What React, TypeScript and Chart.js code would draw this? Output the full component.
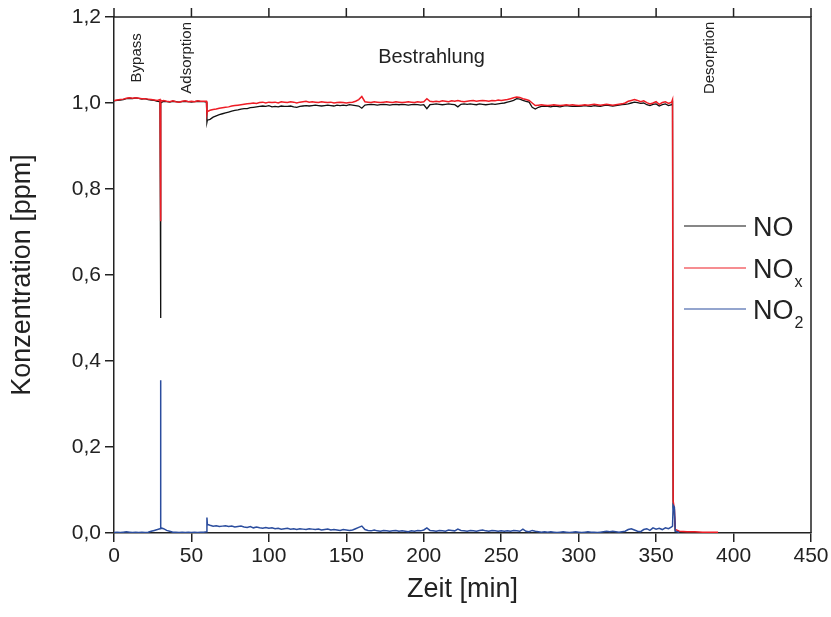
import React, { useEffect, useRef } from "react";
import { Chart, registerables } from "chart.js";

Chart.register(...registerables);

const FONT = "'Liberation Sans', Arial, Helvetica, sans-serif";

// time axis (minutes)
const zeitMin = [
  0, 2, 4, 6, 8, 10, 12, 14, 16, 18, 20, 22, 24, 26, 28,
  29.7, 30, 30.3,
  32, 34, 36, 38, 40, 42, 44, 46, 48, 50, 52, 54, 56, 58,
  59.7, 60, 60.3,
  62, 64, 66, 68, 70, 72, 74, 76, 78, 80, 82, 84, 86, 88, 90, 92, 94, 96, 98, 100,
  102, 104, 106, 108, 110, 112, 114, 116, 118, 120, 122, 124, 126, 128, 130, 132, 134, 136, 138, 140, 142, 144, 146, 148, 150,
  152, 154, 156, 158, 160, 162, 164, 166, 168, 170, 172, 174, 176, 178, 180, 182, 184, 186, 188, 190, 192, 194, 196, 198, 200,
  202, 204, 206, 208, 210, 212, 214, 216, 218, 220, 222, 224, 226, 228, 230, 232, 234, 236, 238, 240, 242, 244, 246, 248, 250,
  252, 254, 256, 258, 260, 262, 264, 266, 268, 270,
  272, 274, 276, 278, 280, 282, 284, 286, 288, 290, 292, 294, 296, 298, 300, 302, 304, 306, 308, 310, 312, 314, 316, 318, 320, 322, 324, 326, 328, 330,
  332, 334, 336, 338, 340, 342, 344, 346, 348, 350, 352, 354, 356, 358, 360,
  360.6, 361, 361.8, 362.4, 365, 370, 375, 380, 385, 390,
];

const noPpm = [
  1.005, 1.006, 1.007, 1.008, 1.010, 1.011, 1.010, 1.012, 1.011, 1.009, 1.010, 1.008, 1.007, 1.006, 1.004,
  1.003, 0.500, 1.000,
  1.004, 1.003, 1.002, 1.004, 1.003, 1.002, 1.003, 1.004, 1.003, 1.002, 1.003, 1.004, 1.003, 1.003,
  1.002, 0.955, 0.960,
  0.962, 0.967, 0.970, 0.973, 0.975, 0.977, 0.979, 0.981, 0.983, 0.984, 0.986, 0.987, 0.987, 0.989, 0.990, 0.991, 0.992, 0.993, 0.992, 0.994,
  0.991, 0.992, 0.991, 0.993, 0.992, 0.992, 0.993, 0.991, 0.990, 0.992, 0.993, 0.994, 0.993, 0.994, 0.995, 0.994, 0.993, 0.994, 0.995, 0.994, 0.993, 0.995, 0.994, 0.995, 0.994,
  0.996, 0.995, 0.994, 0.993, 0.988, 0.995, 0.996, 0.997, 0.996, 0.995, 0.996, 0.997, 0.996, 0.995, 0.996, 0.997, 0.996, 0.997, 0.996, 0.995, 0.996, 0.997, 0.996, 0.995, 0.996,
  0.987, 0.996, 0.997, 0.998, 0.997, 0.996, 0.997, 0.998, 0.997, 0.996, 0.991, 0.997, 0.998, 0.997, 0.998, 0.997, 0.996, 0.998, 0.997, 0.996, 0.997, 0.998, 0.997, 0.998, 0.999,
  1.000, 1.002, 1.004, 1.006, 1.010, 1.009, 1.006, 1.004, 1.002, 0.990,
  0.986, 0.990, 0.992, 0.993, 0.992, 0.991, 0.993, 0.992, 0.991, 0.993, 0.994, 0.993, 0.992, 0.993, 0.992, 0.993, 0.994, 0.993, 0.992, 0.994, 0.993, 0.992, 0.994, 0.995, 0.994, 0.993, 0.994, 0.995, 0.996, 0.997,
  0.998, 1.000, 1.002, 1.001, 0.999, 1.000, 0.996, 0.994, 0.997, 0.998, 0.993, 0.996, 0.998, 0.994, 0.996,
  1.000, 0.060, 0.040, 0.004, 0.002, null, null, null, null, null,
];

const noxPpm = [
  1.006, 1.007, 1.008, 1.009, 1.011, 1.012, 1.011, 1.012, 1.011, 1.010, 1.010, 1.009, 1.008, 1.007, 1.006,
  1.008, 0.725, 1.004,
  1.006, 1.004, 1.003, 1.005, 1.003, 1.002, 1.004, 1.005, 1.003, 1.004, 1.003, 1.005, 1.004, 1.004,
  1.004, 0.975, 0.980,
  0.983, 0.985, 0.986, 0.988, 0.989, 0.990, 0.991, 0.993, 0.994, 0.995, 0.996, 0.997, 0.998, 0.999, 1.000, 0.999, 1.001, 1.002, 1.000, 1.002,
  1.001, 1.002, 1.000, 1.003, 1.002, 1.001, 1.003, 1.002, 1.000, 1.002, 1.003, 1.004, 1.002, 1.003, 1.002, 1.001, 1.003, 1.002, 1.001, 1.002, 1.000, 1.001, 1.002, 1.001, 1.000,
  1.001, 1.002, 1.004, 1.008, 1.015, 1.003, 1.002, 1.001, 1.003, 1.002, 1.001, 1.002, 1.003, 1.002, 1.001, 1.003, 1.002, 1.001, 1.002, 1.003, 1.002, 1.001, 1.003, 1.002, 1.003,
  1.010, 1.004, 1.003, 1.004, 1.003, 1.005, 1.004, 1.003, 1.005, 1.004, 1.006, 1.004, 1.003, 1.004, 1.005, 1.006, 1.004, 1.005, 1.006, 1.005, 1.004, 1.006, 1.005, 1.007, 1.006,
  1.007, 1.008, 1.010, 1.012, 1.014, 1.013, 1.010, 1.008, 1.006, 1.000,
  0.994, 0.995, 0.996, 0.995, 0.994, 0.995, 0.996, 0.995, 0.994, 0.995, 0.996, 0.995, 0.996, 0.995, 0.994, 0.995, 0.996, 0.995, 0.996, 0.997, 0.996, 0.995, 0.996, 0.997, 0.996, 0.995, 0.996, 0.997, 0.998, 1.000,
  1.004, 1.006, 1.008, 1.006, 1.003, 1.005, 1.001, 0.998, 1.000, 1.003, 0.997, 1.001, 1.003, 0.999, 1.002,
  1.008, 0.075, 0.055, 0.008, 0.004, 0.003, 0.003, 0.002, 0.002, 0.002,
];

const no2Ppm = [
  0.001, 0.002, 0.001, 0.002, 0.003, 0.002, 0.001, 0.002, 0.001, 0.002, 0.001, 0.002, 0.004, 0.006, 0.008,
  0.010, 0.355, 0.012,
  0.010, 0.006, 0.004, 0.002, 0.002, 0.001, 0.002, 0.001, 0.002, 0.001, 0.002, 0.001, 0.002, 0.002,
  0.003, 0.036, 0.020,
  0.018, 0.016, 0.017, 0.015, 0.016, 0.017, 0.015, 0.016, 0.014, 0.015, 0.016, 0.014, 0.013, 0.015, 0.012, 0.014, 0.012, 0.011, 0.013, 0.011,
  0.012, 0.010, 0.011, 0.009, 0.010, 0.011, 0.009, 0.010, 0.008, 0.010, 0.009, 0.008, 0.010, 0.009, 0.008, 0.009, 0.007, 0.008, 0.009, 0.007, 0.008, 0.007, 0.006, 0.008, 0.007,
  0.006, 0.007, 0.010, 0.013, 0.016, 0.008, 0.006, 0.005, 0.007, 0.005, 0.004, 0.006, 0.005, 0.004, 0.005, 0.006, 0.004, 0.005, 0.004, 0.003, 0.005, 0.004, 0.006, 0.005, 0.007,
  0.012, 0.006, 0.005, 0.004, 0.006, 0.005, 0.004, 0.007, 0.006, 0.005, 0.009, 0.006, 0.005, 0.004, 0.006, 0.005, 0.004, 0.006, 0.007, 0.005, 0.004, 0.006, 0.005, 0.004, 0.005,
  0.004, 0.005, 0.004, 0.006, 0.005, 0.004, 0.009, 0.004, 0.003, 0.006,
  0.004, 0.003, 0.002, 0.003, 0.002, 0.003, 0.002, 0.001, 0.002, 0.003, 0.002, 0.001, 0.002, 0.003, 0.002, 0.001, 0.002, 0.003, 0.002, 0.002, 0.001, 0.002, 0.003, 0.004, 0.003, 0.004, 0.003, 0.002, 0.003, 0.004,
  0.008, 0.010, 0.007, 0.004, 0.003, 0.008, 0.010, 0.006, 0.012, 0.009, 0.011, 0.008, 0.012, 0.010, 0.014,
  0.016, 0.065, 0.060, 0.004, 0.001, null, null, null, null, null,
];

const seriesNames = ["NO", "NOx", "NO2"];
const legendMain = ["NO", "NO", "NO"];
const legendSub = ["", "x", "2"];
const seriesColors = ["#111111", "#ee1c25", "#2b4d9e"];

const xTickValues = [0, 50, 100, 150, 200, 250, 300, 350, 400, 450];
const phaseTexts = ["Bypass", "Adsorption", "Bestrahlung", "Desorption"];
const phaseX = [15, 47, 205, 384.5];
const phaseVertical = [true, true, false, true];
const phaseY = 1.105;

const toPoints = (arr: (number | null)[]) => zeitMin.map((t, i) => ({ x: t, y: arr[i] }));

const decorPlugin = {
  id: "decor",
  afterDraw(chart: any) {
    const { ctx, chartArea: a, scales } = chart;
    ctx.save();
    ctx.strokeStyle = "#222";
    ctx.lineWidth = 1.5;
    ctx.beginPath();
    ctx.moveTo(a.left, a.top);
    ctx.lineTo(a.right, a.top);
    ctx.lineTo(a.right, a.bottom);
    ctx.stroke();
    ctx.beginPath();
    for (const v of xTickValues) {
      const px = scales.x.getPixelForValue(v);
      ctx.moveTo(px, a.top);
      ctx.lineTo(px, a.top - 9);
    }
    ctx.stroke();

    ctx.fillStyle = "#222";
    for (let i = 0; i < phaseTexts.length; i++) {
      const px = scales.x.getPixelForValue(phaseX[i]);
      const py = scales.y.getPixelForValue(phaseY);
      ctx.save();
      ctx.translate(px, py);
      ctx.textAlign = "center";
      ctx.textBaseline = "middle";
      if (phaseVertical[i]) {
        ctx.rotate(-Math.PI / 2);
        ctx.font = `15px ${FONT}`;
      } else {
        ctx.font = `20px ${FONT}`;
      }
      ctx.fillText(phaseTexts[i], 0, 0);
      ctx.restore();
    }

    const ys = [226, 268, 309];
    for (let i = 0; i < 3; i++) {
      const y = ys[i];
      ctx.strokeStyle = seriesColors[i];
      ctx.lineWidth = 1.2;
      ctx.beginPath();
      ctx.moveTo(684, y);
      ctx.lineTo(746, y);
      ctx.stroke();
      ctx.fillStyle = "#222";
      ctx.font = `27px ${FONT}`;
      ctx.textAlign = "left";
      ctx.textBaseline = "alphabetic";
      const base = y + 10;
      ctx.fillText(legendMain[i], 753, base);
      if (legendSub[i]) {
        const w = ctx.measureText(legendMain[i]).width;
        ctx.font = `16px ${FONT}`;
        ctx.fillText(legendSub[i], 753 + w + 1, base + 9);
      }
    }
    ctx.restore();
  },
};

export default function App() {
  const ref = useRef<HTMLCanvasElement>(null);
  useEffect(() => {
    document.body.style.margin = "0";
    const chart = new Chart(ref.current as HTMLCanvasElement, {
      type: "line",
      data: {
        datasets: [
          { label: seriesNames[0], data: toPoints(noPpm), borderColor: seriesColors[0], borderWidth: 1.3, pointRadius: 0, order: 3, tension: 0 },
          { label: seriesNames[1], data: toPoints(noxPpm), borderColor: seriesColors[1], borderWidth: 1.5, pointRadius: 0, order: 2, tension: 0 },
          { label: seriesNames[2], data: toPoints(no2Ppm), borderColor: seriesColors[2], borderWidth: 1.5, pointRadius: 0, order: 1, tension: 0 },
        ],
      },
      options: {
        animation: false,
        responsive: false,
        layout: { padding: { top: 17, right: 20, left: 0, bottom: 0 } },
        plugins: { legend: { display: false }, tooltip: { enabled: false } },
        scales: {
          x: {
            type: "linear",
            min: 0,
            max: 450,
            afterFit: (s: any) => { s.height = 84; },
            ticks: { stepSize: 50, font: { family: FONT, size: 21 }, color: "#222", padding: 2, maxRotation: 0 },
            grid: { drawOnChartArea: false, drawTicks: true, tickLength: 9, color: "#222", lineWidth: 1.5 },
            border: { display: true, color: "#222", width: 1.5 },
            title: { display: true, text: "Zeit [min]", font: { family: FONT, size: 27 }, color: "#222", padding: { top: 0, bottom: 11 } },
          },
          y: {
            min: 0,
            max: 1.2,
            afterFit: (s: any) => { s.width = 114; },
            ticks: {
              stepSize: 0.2,
              font: { family: FONT, size: 21 },
              color: "#222",
              padding: 4,
              callback: (v: any) => Number(v).toFixed(1).replace(".", ","),
            },
            grid: { drawOnChartArea: false, drawTicks: true, tickLength: 9, color: "#222", lineWidth: 1.5 },
            border: { display: true, color: "#222", width: 1.5 },
            title: { display: true, text: "Konzentration [ppm]", font: { family: FONT, size: 27 }, color: "#222", padding: { top: 6, bottom: 6 } },
          },
        },
      },
      plugins: [decorPlugin],
    } as any);
    return () => chart.destroy();
  }, []);
  return (
    <div style={{ width: 831, height: 617, position: "relative" }}>
      <canvas ref={ref} width={831} height={617} style={{ display: "block" }} />
    </div>
  );
}
